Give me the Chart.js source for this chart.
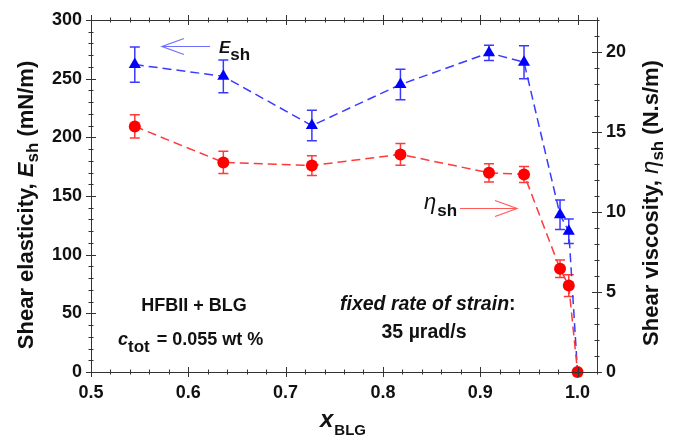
<!DOCTYPE html>
<html>
<head>
<meta charset="utf-8">
<script src="https://cdn.jsdelivr.net/npm/chart.js@4.4.1/dist/chart.umd.min.js"></script>
<style>
  html, body { margin: 0; padding: 0; background: #fff; }
  #wrap { width: 677px; height: 438px; }
</style>
</head>
<body>
<div id="wrap"><canvas id="shearChart"></canvas></div>
<script>
// data
const xBLG = [0.545, 0.636, 0.727, 0.818, 0.909, 0.945, 0.982, 0.991, 1.0];
const elasticity = [262, 252, 210, 245, 272, 264, 134, 120, 0];
const elasticityErr = [15, 14, 13, 13, 6.5, 14, 12.5, 10.5, 0];
const viscosity = [15.35, 13.1, 12.9, 13.6, 12.45, 12.35, 6.45, 5.4, 0];
const viscosityErr = [0.73, 0.7, 0.62, 0.68, 0.57, 0.5, 0.55, 0.68, 0];

const xTicks = [0.5, 0.6, 0.7, 0.8, 0.9, 1.0];
const leftTicks = [0, 50, 100, 150, 200, 250, 300];
const rightTicks = [0, 5, 10, 15, 20];

const FONT = '"Liberation Sans", Arial, sans-serif';
const INK = '#111';

function points(ys) {
    return xBLG.map((x, i) => ({ x: x, y: ys[i] }));
}

// draw a row of text pieces: [text, font, dy, extra gap after]
function drawRuns(ctx, runs, x, y, align) {
    let total = 0;
    runs.forEach(r => { ctx.font = r[1]; total += ctx.measureText(r[0]).width + (r[3] || 0); });
    let cx = align === 'center' ? x - total / 2 : x;
    runs.forEach(r => {
        ctx.font = r[1];
        ctx.fillText(r[0], cx, y + (r[2] || 0));
        cx += ctx.measureText(r[0]).width + (r[3] || 0);
    });
}

function arrow(ctx, x1, x2, y, color) {
    // line from x1 to x2, head at x2
    const dir = x2 > x1 ? -1 : 1;
    ctx.save();
    ctx.strokeStyle = color;
    ctx.lineWidth = 1.2;
    ctx.beginPath();
    ctx.moveTo(x1, y); ctx.lineTo(x2, y);
    ctx.moveTo(x2 + dir * 22, y - 8); ctx.lineTo(x2, y); ctx.lineTo(x2 + dir * 22, y + 8);
    ctx.stroke();
    ctx.restore();
}

const errorBars = {
    id: 'errorBars',
    beforeDatasetsDraw(chart) {
        const ctx = chart.ctx;
        chart.data.datasets.forEach((ds, i) => {
            const yScale = chart.scales[ds.yAxisID];
            const meta = chart.getDatasetMeta(i);
            ctx.save();
            ctx.strokeStyle = ds.errColor;
            ctx.lineWidth = 1.5;
            meta.data.forEach((pt, j) => {
                const e = ds.errors[j];
                if (!e) return;
                const v = ds.data[j].y;
                const top = yScale.getPixelForValue(v + e);
                const bot = yScale.getPixelForValue(v - e);
                ctx.beginPath();
                ctx.moveTo(pt.x, top); ctx.lineTo(pt.x, bot);
                ctx.moveTo(pt.x - 5, top); ctx.lineTo(pt.x + 5, top);
                ctx.moveTo(pt.x - 5, bot); ctx.lineTo(pt.x + 5, bot);
                ctx.stroke();
            });
            ctx.restore();
        });
    }
};

const frameAndText = {
    id: 'frameAndText',
    afterDraw(chart) {
        const ctx = chart.ctx;
        const a = chart.chartArea;
        const xs = chart.scales.x, yl = chart.scales.y, yr = chart.scales.y1;
        ctx.save();
        ctx.strokeStyle = '#333';
        ctx.lineWidth = 1;
        ctx.strokeRect(Math.round(a.left) + 0.5, Math.round(a.top) + 0.5,
            Math.round(a.right - a.left), Math.round(a.bottom - a.top));

        // tick marks, major cross the frame, minor are short
        ctx.beginPath();
        for (let k = 0; k <= 26; k++) {
            const v = 0.5 + k * 0.02;
            const p = Math.round(xs.getPixelForValue(v)) + 0.5;
            const len = k % 5 === 0 ? 5 : 2.5;
            ctx.moveTo(p, a.bottom - len); ctx.lineTo(p, a.bottom + len);
            ctx.moveTo(p, a.top - len); ctx.lineTo(p, a.top + len);
        }
        for (let v = 0; v <= 300; v += 10) {
            const p = Math.round(yl.getPixelForValue(v)) + 0.5;
            const len = v % 50 === 0 ? 5 : 2.5;
            ctx.moveTo(a.left - len, p); ctx.lineTo(a.left + len, p);
        }
        for (let v = 0; v <= 22; v += 1) {
            const p = Math.round(yr.getPixelForValue(v)) + 0.5;
            const len = v % 5 === 0 ? 5 : 2.5;
            ctx.moveTo(a.right - len, p); ctx.lineTo(a.right + len, p);
        }
        ctx.stroke();

        ctx.fillStyle = INK;
        ctx.textAlign = 'left';
        ctx.textBaseline = 'alphabetic';

        // axis titles
        ctx.save();
        ctx.translate(25, 205);
        ctx.rotate(-Math.PI / 2);
        drawRuns(ctx, [
            ['Shear elasticity, ', 'bold 22px ' + FONT],
            ['E', 'italic bold 22px ' + FONT],
            ['sh', 'bold 17px ' + FONT, 5],
            [' (mN/m)', 'bold 22px ' + FONT]
        ], 0, 8, 'center');
        ctx.restore();

        ctx.save();
        ctx.translate(650, 203);
        ctx.rotate(-Math.PI / 2);
        drawRuns(ctx, [
            ['Shear viscosity, ', 'bold 22px ' + FONT],
            ['\u03b7', 'italic 24px ' + FONT],
            ['sh', 'bold 17px ' + FONT, 5],
            [' (N.s/m)', 'bold 22px ' + FONT]
        ], 0, 8, 'center');
        ctx.restore();

        drawRuns(ctx, [
            ['x', 'italic bold 24px ' + FONT, 0, 1],
            ['BLG', 'bold 15px ' + FONT, 8]
        ], 320, 427, 'left');

        // annotations
        arrow(ctx, 210, 162, 46.5, '#6f6fff');
        drawRuns(ctx, [
            ['E', 'italic bold 17px ' + FONT],
            ['sh', 'bold 17px ' + FONT, 7]
        ], 219, 53, 'left');

        arrow(ctx, 460, 517, 208.5, '#ff5a5a');
        drawRuns(ctx, [
            ['\u03b7', 'italic 22px ' + FONT, 0, 1],
            ['sh', 'bold 17px ' + FONT, 7]
        ], 424, 209, 'left');

        drawRuns(ctx, [['HFBII + BLG', 'bold 18px ' + FONT]], 194, 311, 'center');
        drawRuns(ctx, [
            ['c', 'italic bold 18px ' + FONT],
            ['tot', 'bold 17px ' + FONT, 7, 7],
            ['= 0.055 wt %', 'bold 18px ' + FONT]
        ], 118, 345, 'left');

        drawRuns(ctx, [
            ['fixed rate of strain', 'italic bold 19.5px ' + FONT],
            [':', 'bold 19.5px ' + FONT]
        ], 340, 310, 'left');
        drawRuns(ctx, [['35 \u00b5rad/s', 'bold 19.5px ' + FONT]], 424, 338, 'center');

        ctx.restore();
    }
};

const tickFont = { family: FONT, size: 18, weight: 'bold' };

new Chart(document.getElementById('shearChart'), {
    type: 'line',
    data: {
        datasets: [
            {
                label: 'Shear viscosity',
                data: points(viscosity),
                yAxisID: 'y1',
                errors: viscosityErr,
                errColor: '#ff3a3a',
                borderColor: '#ff3a3a',
                borderWidth: 1.5,
                borderDash: [9, 5],
                pointStyle: 'circle',
                pointRadius: 6,
                pointBackgroundColor: '#ff0000',
                pointBorderColor: '#ff0000',
                pointBorderWidth: 0,
                clip: false
            },
            {
                label: 'Shear elasticity',
                data: points(elasticity),
                yAxisID: 'y',
                errors: elasticityErr,
                errColor: '#3a3aff',
                borderColor: '#3a3aff',
                borderWidth: 1.5,
                borderDash: [9, 5],
                pointStyle: 'triangle',
                // last triangle sits under the red dot at zero
                pointRadius: c => (c.raw && c.raw.y === 0 ? 0 : 7),
                pointBackgroundColor: '#0000ff',
                pointBorderColor: '#0000ff',
                pointBorderWidth: 0,
                clip: false
            }
        ]
    },
    options: {
        responsive: true,
        maintainAspectRatio: false,
        animation: false,
        layout: { padding: { top: 20 } },
        plugins: { legend: { display: false }, tooltip: { enabled: false } },
        scales: {
            x: {
                type: 'linear', min: 0.5, max: 1.02,
                afterBuildTicks: s => { s.ticks = xTicks.map(v => ({ value: v })); },
                afterFit: s => { s.height = 66; },
                grid: { display: false, drawTicks: false },
                border: { display: false },
                ticks: { callback: v => v.toFixed(1), font: tickFont, color: INK, padding: 10, maxRotation: 0, autoSkip: false }
            },
            y: {
                position: 'left', min: 0, max: 300,
                afterBuildTicks: s => { s.ticks = leftTicks.map(v => ({ value: v })); },
                afterFit: s => { s.width = 91; },
                grid: { display: false, drawTicks: false },
                border: { display: false },
                ticks: { font: tickFont, color: INK, padding: 9, autoSkip: false }
            },
            y1: {
                position: 'right', min: 0, max: 22,
                afterBuildTicks: s => { s.ticks = rightTicks.map(v => ({ value: v })); },
                afterFit: s => { s.width = 80; },
                grid: { display: false, drawTicks: false },
                border: { display: false },
                ticks: { font: tickFont, color: INK, padding: 9, autoSkip: false }
            }
        }
    },
    plugins: [errorBars, frameAndText]
});
</script>
</body>
</html>
